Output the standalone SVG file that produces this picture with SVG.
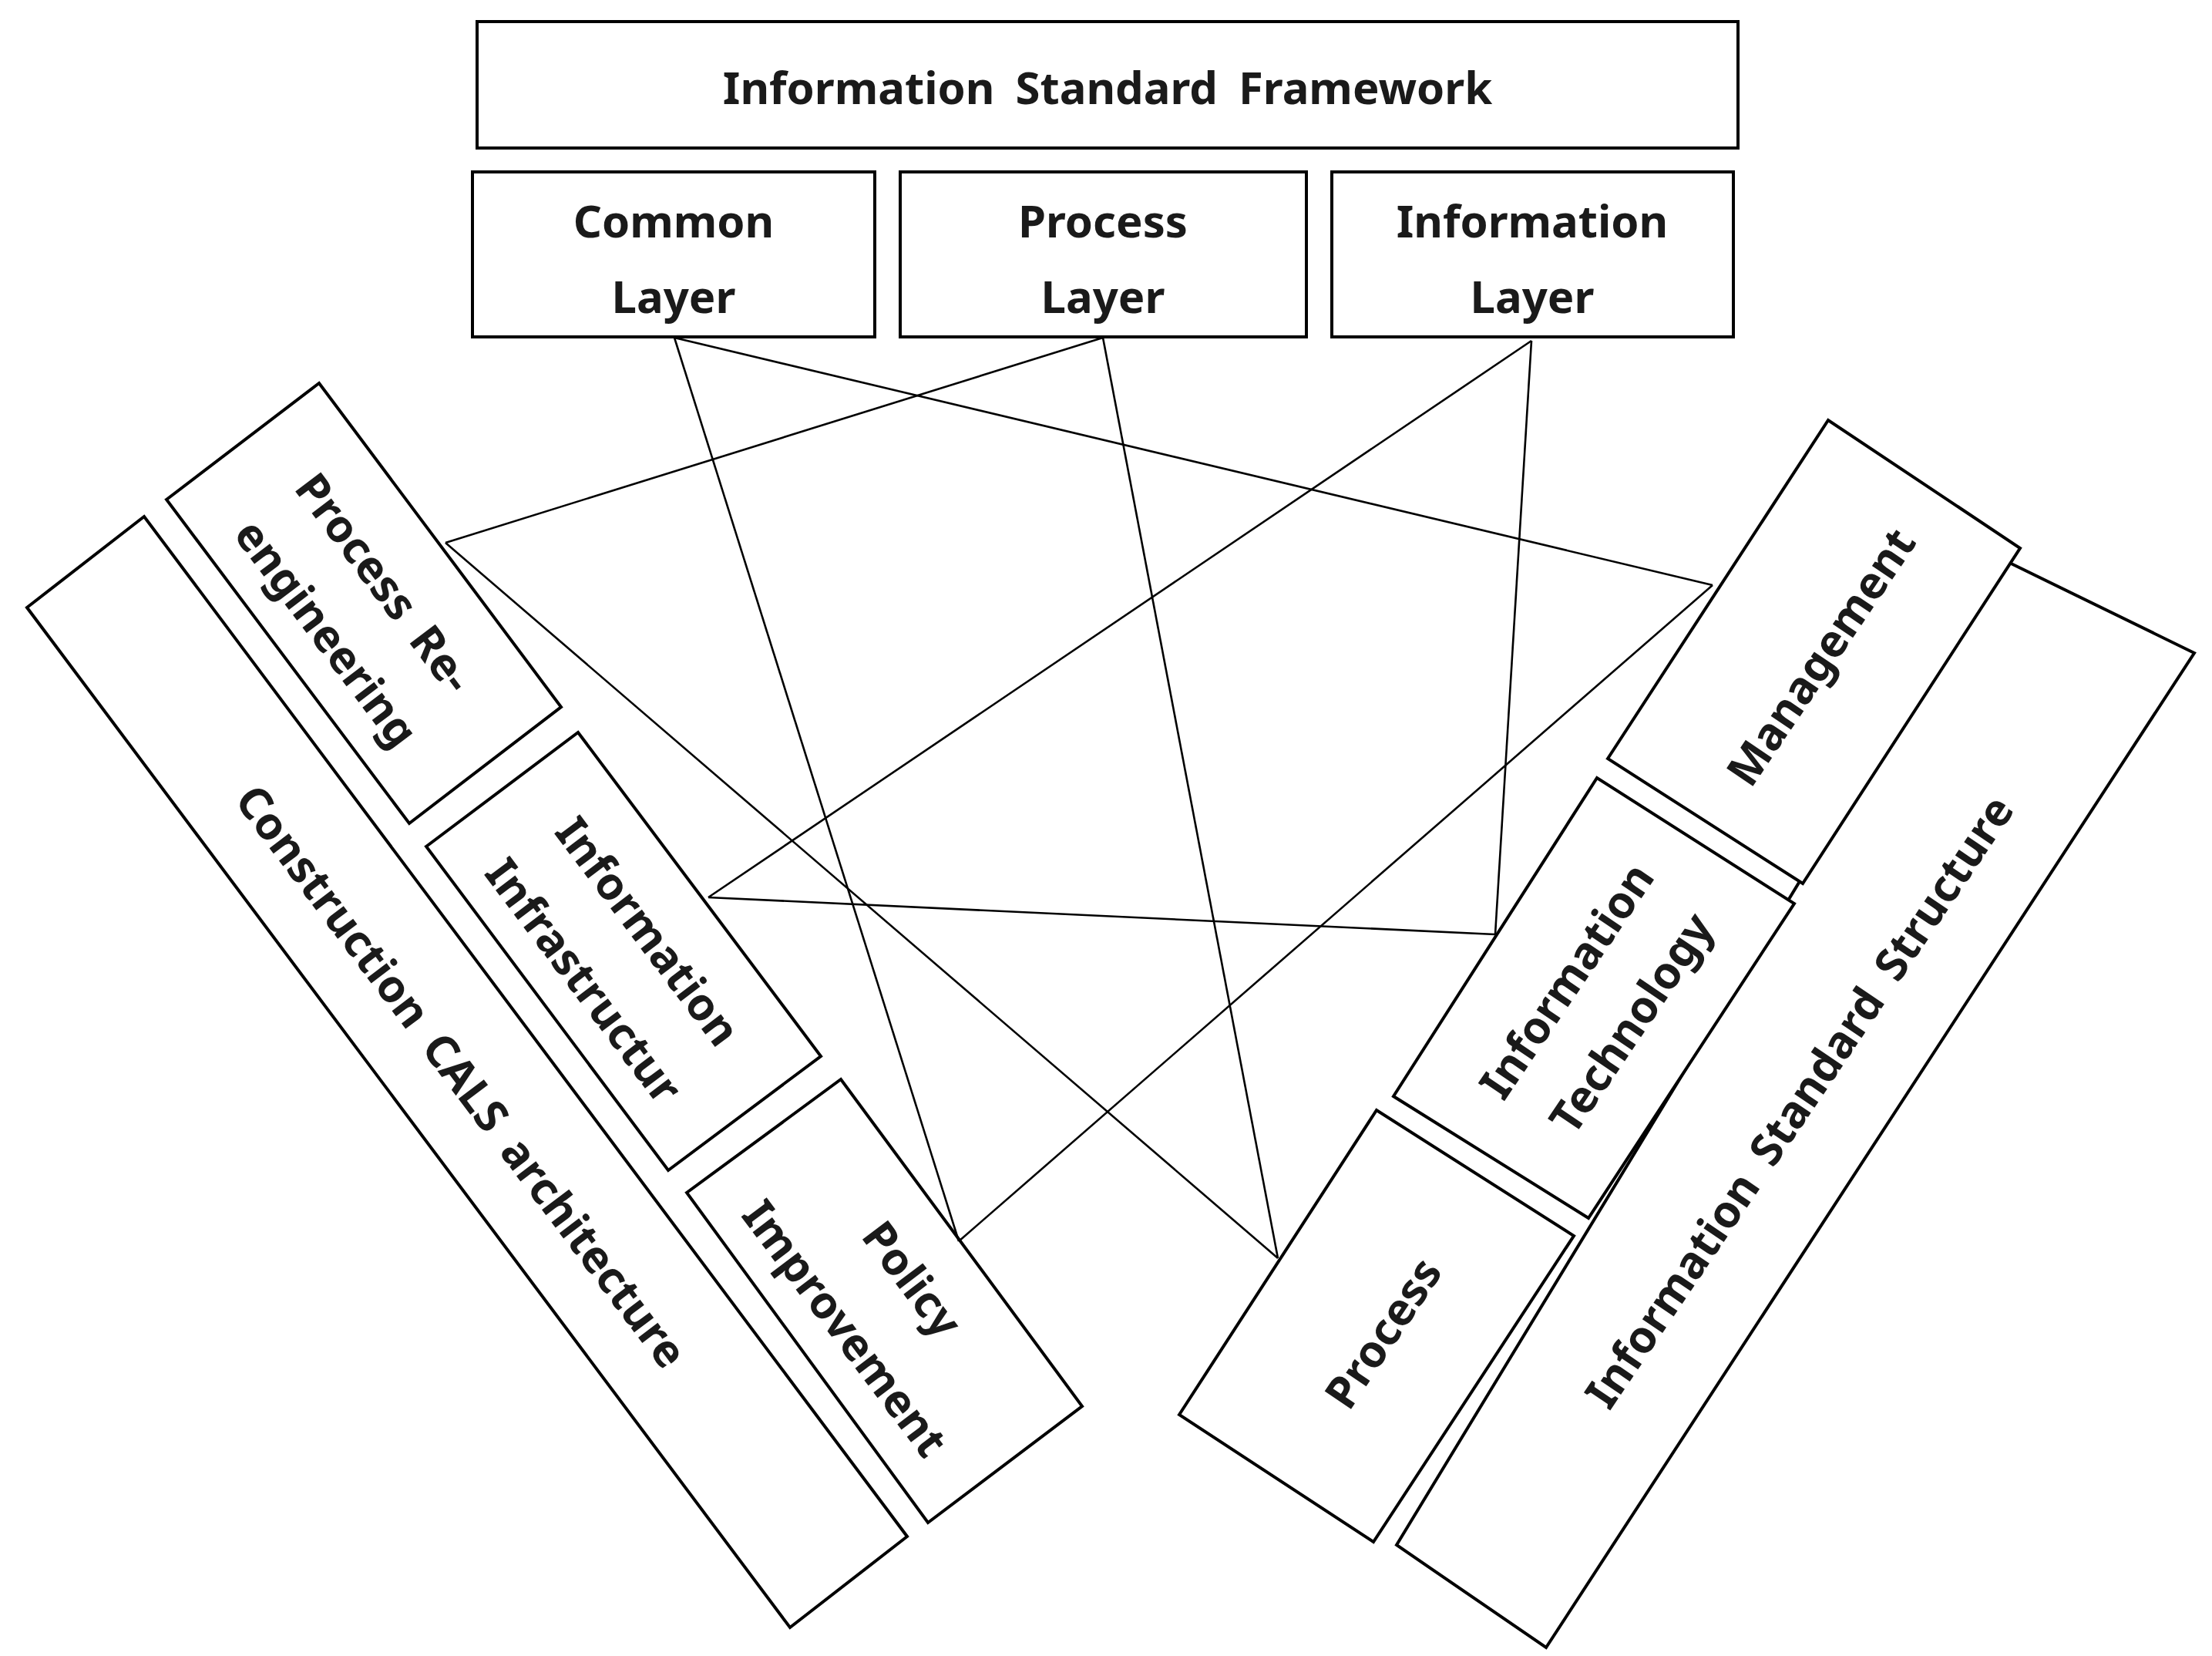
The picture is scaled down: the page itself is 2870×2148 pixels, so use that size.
<svg xmlns="http://www.w3.org/2000/svg" width="2870" height="2148" viewBox="0 0 2870 2148">
<style>
.b{fill:#fff;stroke:#000;stroke-width:4}
.t{font-family:"Noto Sans","DejaVu Sans",sans-serif;font-size:58px;font-weight:bold;fill:#1a1a1a;text-anchor:middle;dominant-baseline:central;word-spacing:12px}
.c{stroke:#000;stroke-width:2.6;fill:none}
</style>
<rect width="2870" height="2148" fill="#fff"/>
<g id="framework"><rect class="b" x="619" y="28" width="1636" height="164"/><text class="t" x="1437" y="112">Information Standard Framework</text></g>
<g id="common"><rect class="b" x="613" y="223" width="522" height="214"/><text class="t" x="874" y="285">Common</text><text class="t" x="874" y="383">Layer</text></g>
<g id="processLayer"><rect class="b" x="1168" y="223" width="527" height="214"/><text class="t" x="1431" y="285">Process</text><text class="t" x="1431" y="383">Layer</text></g>
<g id="infoLayer"><rect class="b" x="1728" y="223" width="521" height="214"/><text class="t" x="1988" y="285">Information</text><text class="t" x="1988" y="383">Layer</text></g>
<g id="cals"><polygon class="b" points="35,788 187,670 1177,1993 1025,2111"/><text class="t" transform="translate(600,1395) rotate(53)">Construction CALS architecture</text></g>
<g id="pre"><polygon class="b" points="216,648 414,497 728,917 531,1068"/><text class="t" transform="translate(500,755) rotate(53)">Process Re-</text><text class="t" transform="translate(425,820) rotate(53)">engineering</text></g>
<g id="infra"><polygon class="b" points="553,1098 750,950 1065,1370 867,1518"/><text class="t" transform="translate(842,1207) rotate(53)">Information</text><text class="t" transform="translate(759,1271) rotate(53)">Infrastructur</text></g>
<g id="policy"><polygon class="b" points="891,1547 1091,1400 1404,1824 1204,1975"/><text class="t" transform="translate(1185,1658) rotate(53)">Policy</text><text class="t" transform="translate(1098,1722) rotate(53)">Improvement</text></g>
<g id="iss"><polygon class="b" points="1812,2004 2591,722 2847,847 2006,2137"/><text class="t" transform="translate(2333,1428) rotate(-56)">Information Standard Structure</text></g>
<g id="management"><polygon class="b" points="2086,984 2372,545 2621,711 2339,1146"/><text class="t" transform="translate(2361,851) rotate(-56)">Management</text></g>
<g id="it"><polygon class="b" points="1808,1422 2072,1009 2328,1172 2061,1580"/><text class="t" transform="translate(2031,1271) rotate(-56)">Information</text><text class="t" transform="translate(2115,1326) rotate(-56)">Technology</text></g>
<g id="process"><polygon class="b" points="1530,1835 1786,1440 2042,1603 1782,2000"/><text class="t" transform="translate(1793,1728) rotate(-56)">Process</text></g>
<g id="connectors" class="c">
<line x1="875" y1="438" x2="1244" y2="1610"/>
<line x1="875" y1="438" x2="2222" y2="759"/>
<line x1="1431" y1="438" x2="578" y2="704"/>
<line x1="1431" y1="438" x2="1658" y2="1632"/>
<line x1="1987" y1="442" x2="919" y2="1164"/>
<line x1="1987" y1="442" x2="1940" y2="1212"/>
<line x1="578" y1="704" x2="1658" y2="1632"/>
<line x1="919" y1="1164" x2="1940" y2="1212"/>
<line x1="1244" y1="1610" x2="2222" y2="759"/>
</g>
</svg>
